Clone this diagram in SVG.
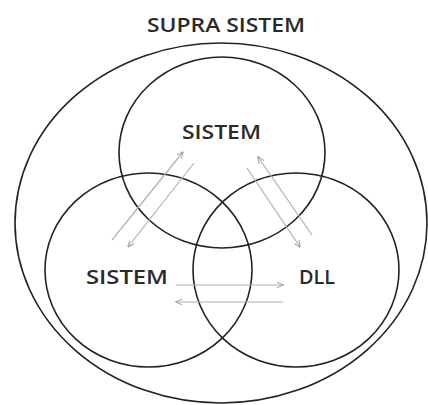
<svg xmlns="http://www.w3.org/2000/svg" width="428" height="405" viewBox="0 0 428 405">
<style>
.ring{fill:none;stroke:#222;stroke-width:1.6}
.lbl{font-family:"Open Sans","Liberation Sans",sans-serif;font-size:20px;font-weight:600;fill:#2a2a2a}
.arr{stroke:#b0b0b0;stroke-width:1.2;fill:none;marker-end:url(#ah)}
</style>
<defs>
<marker id="ah" viewBox="0 0 10 10" refX="9" refY="5" markerWidth="7" markerHeight="7" orient="auto" markerUnits="userSpaceOnUse">
<path d="M0,1 L10,5 L0,9" fill="none" stroke="#a0a0a0" stroke-width="1.4"/>
</marker>
</defs>
<rect width="428" height="405" fill="#fff"/>
<g id="supra">
<ellipse class="ring" cx="221" cy="223" rx="206" ry="180"/>
<text class="lbl" x="226" y="32" text-anchor="middle" textLength="158" lengthAdjust="spacingAndGlyphs">SUPRA SISTEM</text>
</g>
<g id="sistem-top">
<ellipse class="ring" cx="222" cy="152.5" rx="103" ry="95.5"/>
<text class="lbl" x="221.5" y="139" text-anchor="middle" textLength="79" lengthAdjust="spacingAndGlyphs">SISTEM</text>
</g>
<g id="sistem-left">
<ellipse class="ring" cx="148.5" cy="270" rx="103.5" ry="97"/>
<text class="lbl" x="127" y="284" text-anchor="middle" textLength="82" lengthAdjust="spacingAndGlyphs">SISTEM</text>
</g>
<g id="dll">
<ellipse class="ring" cx="296" cy="270" rx="103" ry="97"/>
<text class="lbl" x="317" y="284" text-anchor="middle" textLength="36" lengthAdjust="spacingAndGlyphs">DLL</text>
</g>
<g id="connectors">
<line class="arr" x1="112" y1="240" x2="183" y2="152"/>
<line class="arr" x1="194" y1="163" x2="128" y2="247"/>
<line class="arr" x1="312" y1="235" x2="258" y2="157"/>
<line class="arr" x1="247" y1="168" x2="300" y2="247"/>
<line class="arr" x1="176" y1="285" x2="283" y2="285"/>
<line class="arr" x1="283" y1="302" x2="176" y2="302"/>
</g>
</svg>
